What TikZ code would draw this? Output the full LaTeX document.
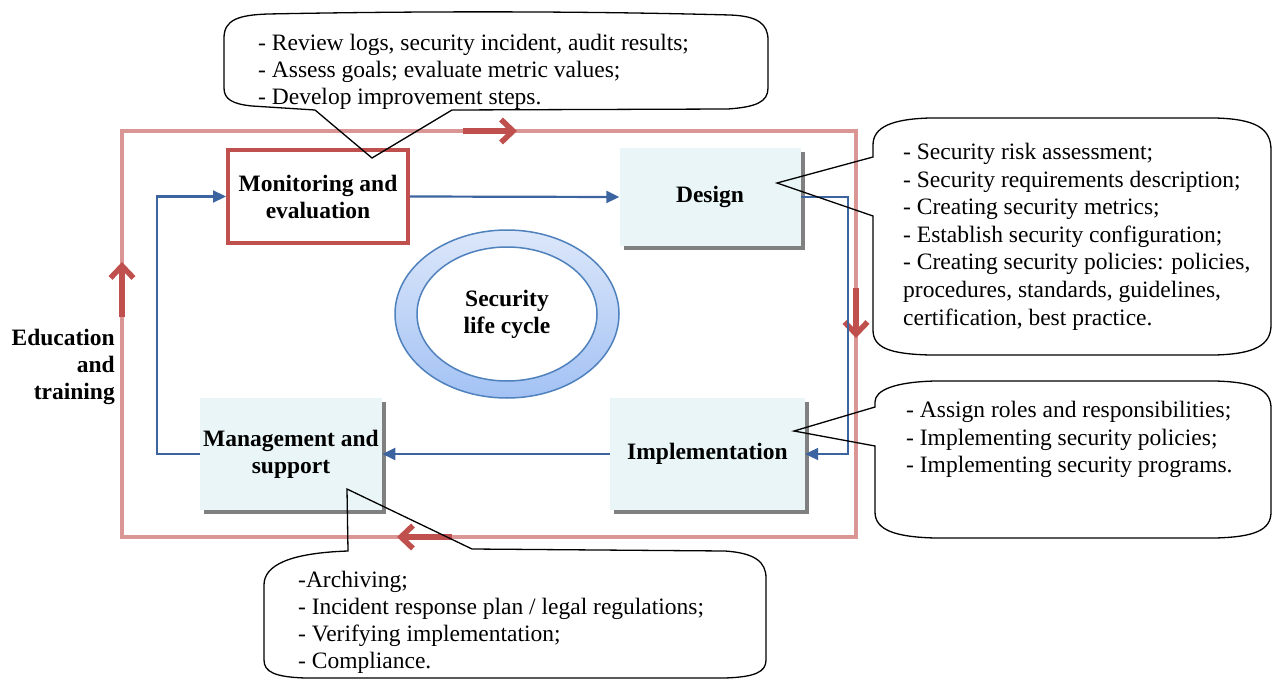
\documentclass[tikz,border=0pt]{standalone}
\usepackage{fontspec}
\setmainfont{Liberation Serif}
\usetikzlibrary{arrows.meta,shapes.geometric,shadows,positioning}

\definecolor{framepink}{RGB}{218,150,148}
\definecolor{darkred}{RGB}{192,80,77}
\definecolor{flowblue}{RGB}{60,100,160}
\definecolor{boxfill}{RGB}{233,245,246}
\definecolor{ringblue}{RGB}{79,129,189}
\definecolor{ringtop}{RGB}{220,231,250}
\definecolor{ringbot}{RGB}{163,194,244}

\newcommand\bodysize{\fontsize{23.5}{27}\selectfont}
\newcommand\widesize{\fontsize{23.5}{27.6}\selectfont}

\begin{document}
\begin{tikzpicture}[x=1pt,y=-1pt,
        every node/.style={font=\bodysize},
        stage/.style={fill=boxfill,font=\bodysize\bfseries,align=center,
            drop shadow={shadow xshift=4pt,shadow yshift=-4pt,fill=gray,opacity=1}},
        flow/.style={flowblue,line width=2.2pt,-{Triangle[length=13pt,width=12pt]}},
        turn/.style={darkred,line width=5.5pt,-{Straight Barb[length=12pt,width=23pt]}},
        bubble/.style={black,line width=1.3pt},
        note/.style={anchor=north west,align=left,inner sep=0pt}]
    \useasboundingbox (0,0) rectangle (1273,679);
    % frame of the cycle
    \draw[framepink,line width=4pt] (122,131) rectangle (856,537);
    \coordinate (top1) at (463,131); \coordinate (top2) at (517,131);
    \coordinate (rgt1) at (856,288); \coordinate (rgt2) at (856,338);
    \coordinate (bot1) at (452,537); \coordinate (bot2) at (397,537);
    \coordinate (lft1) at (122,317); \coordinate (lft2) at (122,262);
    \draw[turn] (top1) -- (top2);
    \draw[turn] (rgt1) -- (rgt2);
    \draw[turn] (bot1) -- (bot2);
    \draw[turn] (lft1) -- (lft2);
    \node (edu) [anchor=north east,align=right,inner sep=0pt,font=\bodysize\bfseries] at (115,329) {Education\\and\\training};
    % stages
    \node (mon) [draw=darkred,line width=4pt,fill=white,minimum width=180pt,minimum height=93pt,align=center,font=\bodysize\bfseries] at (318,196.5) {Monitoring and\\evaluation};
    \node (des) [stage,minimum width=181pt,minimum height=98pt] at (710,197) {Design};
    \node (impl) [stage,minimum width=195pt,minimum height=112pt] at (707.5,454) {Implementation};
    \node (mgmt) [stage,minimum width=182pt,minimum height=112pt] at (291,454) {Management and\\support};
    \node (ring) [ellipse,draw=ringblue,line width=1.5pt,top color=ringtop,bottom color=ringbot,minimum width=224pt,minimum height=168pt] at (507,314) {};
    \node (core) [ellipse,draw=ringblue,line width=1.5pt,fill=white,minimum width=180pt,minimum height=134pt,inner sep=0pt,align=center,font=\bodysize\bfseries] at (ring.center) {Security\\life cycle};
    \draw[flow] (mon.east) -- (des.west);
    \draw[flow] (des.east) -- ++(47,0) |- (impl.east);
    \draw[flow] (impl.west) -- (mgmt.east);
    \draw[flow] (mgmt.west) -- ++(-43,0) |- (mon.west);
    % callouts
    \coordinate (tipmon) at (372,158);
    \coordinate (tipdes) at (777,183);
    \coordinate (tipimpl) at (794,431);
    \coordinate (tipmgmt) at (347,489);
    \draw[bubble] (224,38) .. controls (224,20) and (238,15) .. (268,14)
        .. controls (420,11) and (580,11) .. (730,15)
        .. controls (758,16) and (768,24) .. (768,40) -- (768,88)
        .. controls (768,102) and (756,107) .. (728,109)
        -- (452,110) -- (tipmon) -- (315,110) -- (252,106)
        .. controls (232,104) and (224,99) .. (224,88) -- cycle;
    \draw[bubble] (873,157) -- (tipdes) -- (873,216) -- (873,330)
        .. controls (873,348) and (890,354) .. (930,355) -- (1215,355)
        .. controls (1255,354) and (1271,345) .. (1271,325) -- (1271,150)
        .. controls (1271,128) and (1255,119) .. (1215,118) -- (930,118)
        .. controls (892,119) and (873,127) .. (873,145) -- cycle;
    \draw[bubble] (875,407) -- (tipimpl) -- (875,446) -- (875,512)
        .. controls (875,530) and (895,537) .. (935,538) -- (1215,538)
        .. controls (1255,537) and (1271,530) .. (1271,512) -- (1271,408)
        .. controls (1271,390) and (1255,382) .. (1215,381) -- (935,381)
        .. controls (895,382) and (875,390) .. (875,402) -- cycle;
    \draw[bubble] (tipmgmt) -- (472,549) -- (725,551)
        .. controls (755,553) and (766,562) .. (766,578) -- (766,660)
        .. controls (766,672) and (755,677) .. (725,678) -- (305,678)
        .. controls (275,677) and (264,672) .. (264,660) -- (264,585)
        .. controls (264,565) and (290,553) .. (348,551) -- cycle;
    \node (monnote) [note] at (258,34) {- Review logs, security incident, audit results;\\- Assess goals; evaluate metric values;\\- Develop improvement steps.};
    \node (desnote) [note,font=\widesize] at (903,143) {- Security risk assessment;\\- Security requirements description;\\- Creating security metrics;\\- Establish security configuration;\\- Creating security policies: policies,\\procedures, standards, guidelines,\\certification, best practice.};
    \node (implnote) [note,font=\widesize] at (906,401) {- Assign roles and responsibilities;\\- Implementing security policies;\\- Implementing security programs.};
    \node (mgmtnote) [note] at (298,571) {-Archiving;\\- Incident response plan / legal regulations;\\- Verifying implementation;\\- Compliance.};
\end{tikzpicture}
\end{document}
